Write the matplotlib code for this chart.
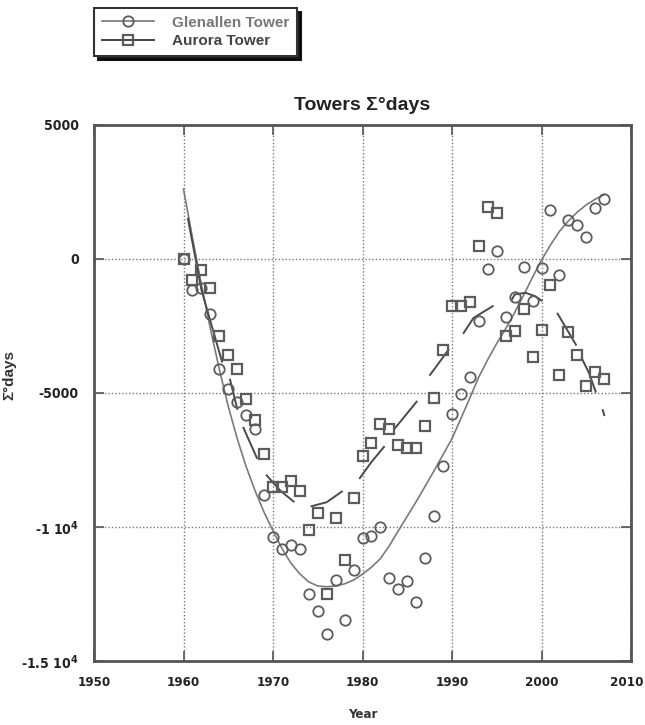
import matplotlib
matplotlib.use('Agg')
import matplotlib.pyplot as plt
from matplotlib.font_manager import FontProperties
from matplotlib.transforms import ScaledTranslation

plt.rcParams['font.family'] = ['Liberation Sans', 'DejaVu Sans']

# yearly accumulated degree-days for the two towers
years = list(range(1960, 2008))
glenallen = [0, -1160, -1080, -2060, -4110, -4860, -5330, -5820, -6350, -8800,
             -10390, -10825, -10675, -10825, -12510, -13140, -14010, -11990, -13460, -11610,
             -10425, -10325, -10010, -11890, -12325, -12010, -12790, -11140, -9600, -7725,
             -5790, -5050, -4390, -2325, -360, 310, -2150, -1410, -300, -1575,
             -325, 1825, -590, 1450, 1260, 825, 1885, 2240]
aurora = [0, -800, -410, -1075, -2890, -3575, -4100, -5240, -6010, -7260,
          -8490, -8490, -8290, -8640, -10110, -9490, -12510, -9660, -11225, -8925,
          -7360, -6860, -6140, -6350, -6925, -7040, -7040, -6225, -5175, -3390,
          -1740, -1760, -1600, 490, 1925, 1710, -2860, -2700, -1860, -3660,
          -2660, -975, -4325, -2725, -3600, -4725, -4225, -4490]

# trend curve through the Glenallen series
glen_fit = [2610, 800, -950, -2600, -4110, -5500, -6700, -7750, -8650, -9450,
            -10140, -10800, -11350, -11750, -12050, -12200, -12230, -12200, -12120, -11980,
            -11760, -11500, -11180, -10700, -10140, -9600, -9050, -8480, -7900, -7300,
            -6700, -5950, -5180, -4400, -3750, -3150, -2600, -2000, -1350, -680,
            -40, 520, 1030, 1420, 1750, 2020, 2230, 2400]

# local trend pieces for Aurora (years, values)
aurora_fit = [
    ([1960.5, 1962.0, 1964.3], [1500, -1150, -3825]),
    ([1965.2, 1966.0], [-4500, -5590]),
    ([1966.7, 1967.5, 1968.2], [-6300, -6900, -7425]),
    ([1969.3, 1970.8, 1972.3], [-8075, -8640, -9050]),
    ([1974.3, 1976.0, 1977.7], [-9225, -9075, -8675]),
    ([1979.7, 1981.0, 1982.4], [-8175, -7575, -7010]),
    ([1983.6, 1986.05], [-6325, -5325]),
    ([1987.55, 1989.6], [-4325, -3390]),
    ([1991.3, 1992.4, 1994.55], [-2760, -2200, -1760]),
    ([1996.7, 1997.0, 1998.2, 1999.3, 2000.0], [-1510, -1325, -1260, -1390, -1550]),
    ([2001.8, 2003.85], [-2040, -3200]),
    ([2004.5, 2005.3, 2006.05], [-3700, -4250, -4950]),
    ([2006.85, 2007.0], [-5640, -5825]),
]

xticks = [1950, 1960, 1970, 1980, 1990, 2000, 2010]
yticks = [5000, 0, -5000, -10000, -15000]
ylabels = ['5000', '0', '-5000', '-1 10$^{\\mathbf{4}}$', '-1.5 10$^{\\mathbf{4}}$']

fig = plt.figure(figsize=(6.45, 7.25), dpi=100)
ax = fig.add_axes([94/645, 1-661/725, 537/645, 536/725])

mc = '#5c5c5c'
ax.plot(years, glen_fit, color='#7a7a7a', lw=1.2, zorder=3)
for fx, fy in aurora_fit:
    ax.plot(fx, fy, color='#4a4a4a', lw=1.4, zorder=3)

ax.plot(years, glenallen, ls='none', marker='o', ms=7.5, mfc='none', mec=mc,
        mew=1.3, zorder=4)
ax.plot(years, aurora, ls='none', marker='s', ms=7.5, mfc='none', mec=mc,
        mew=1.6, zorder=4)

ax.set_xlim(1950, 2010)
ax.set_ylim(-15000, 5000)
ax.set_xticks(xticks)
ax.set_yticks(yticks)
ax.set_yticklabels(ylabels)
ax.grid(True, color='#777777', ls=(0, (1, 1.5)), lw=1.0)
ax.tick_params(direction='in', length=7, width=1.2, color='#555555',
               top=True, right=True, pad=11)

# narrow bold face for the tick numbers
def narrow(size):
    return FontProperties(family='DejaVu Sans', stretch='condensed', weight='bold', size=size)

for lab in ax.get_xticklabels():
    lab.set_fontproperties(narrow(9.5))
    lab.set_color('#222222')
# keep the last year label inside the figure edge
last = ax.get_xticklabels()[-1]
last.set_transform(last.get_transform() + ScaledTranslation(-0.04, 0, fig.dpi_scale_trans))
for lab in ax.get_yticklabels():
    lab.set_fontproperties(narrow(10))
    lab.set_color('#222222')
for sp in ax.spines.values():
    sp.set_color('#555555')
    sp.set_linewidth(2)

ax.set_title('Towers Σ°days', fontsize=14, fontweight='bold', pad=11, color='#222222')
ax.set_xlabel('Year', fontproperties=narrow(9.5), color='#333333')
ax.xaxis.set_label_coords(0.5, -0.088)
ax.set_ylabel('Σ°days', fontsize=11, fontweight='bold', color='#333333')
ax.yaxis.set_label_coords(-0.145, 0.534)

handles = [
    plt.Line2D([], [], color='#777777', lw=1.2, marker='o', ms=7.5, mfc='none', mec=mc, mew=1.3),
    plt.Line2D([], [], color='#444444', lw=1.4, marker='s', ms=7.5, mfc='none', mec=mc, mew=1.6),
]
leg = fig.legend(handles, ['Glenallen Tower', 'Aurora Tower'], loc='upper left',
                 bbox_to_anchor=(94/645, 1-8/725), borderaxespad=0, fancybox=False,
                 shadow={'color': 'black', 'alpha': 0.9, 'ox': 3, 'oy': -3},
                 numpoints=1, handlelength=3.4, handletextpad=1.2, labelspacing=0.3,
                 borderpad=0.5, prop={'weight': 'bold', 'size': 11})
leg.get_frame().set_edgecolor('#333333')
leg.get_frame().set_linewidth(1.5)
leg.get_texts()[0].set_color('#777777')
leg.get_texts()[1].set_color('#444444')

fig.savefig('out.png', dpi=100)
